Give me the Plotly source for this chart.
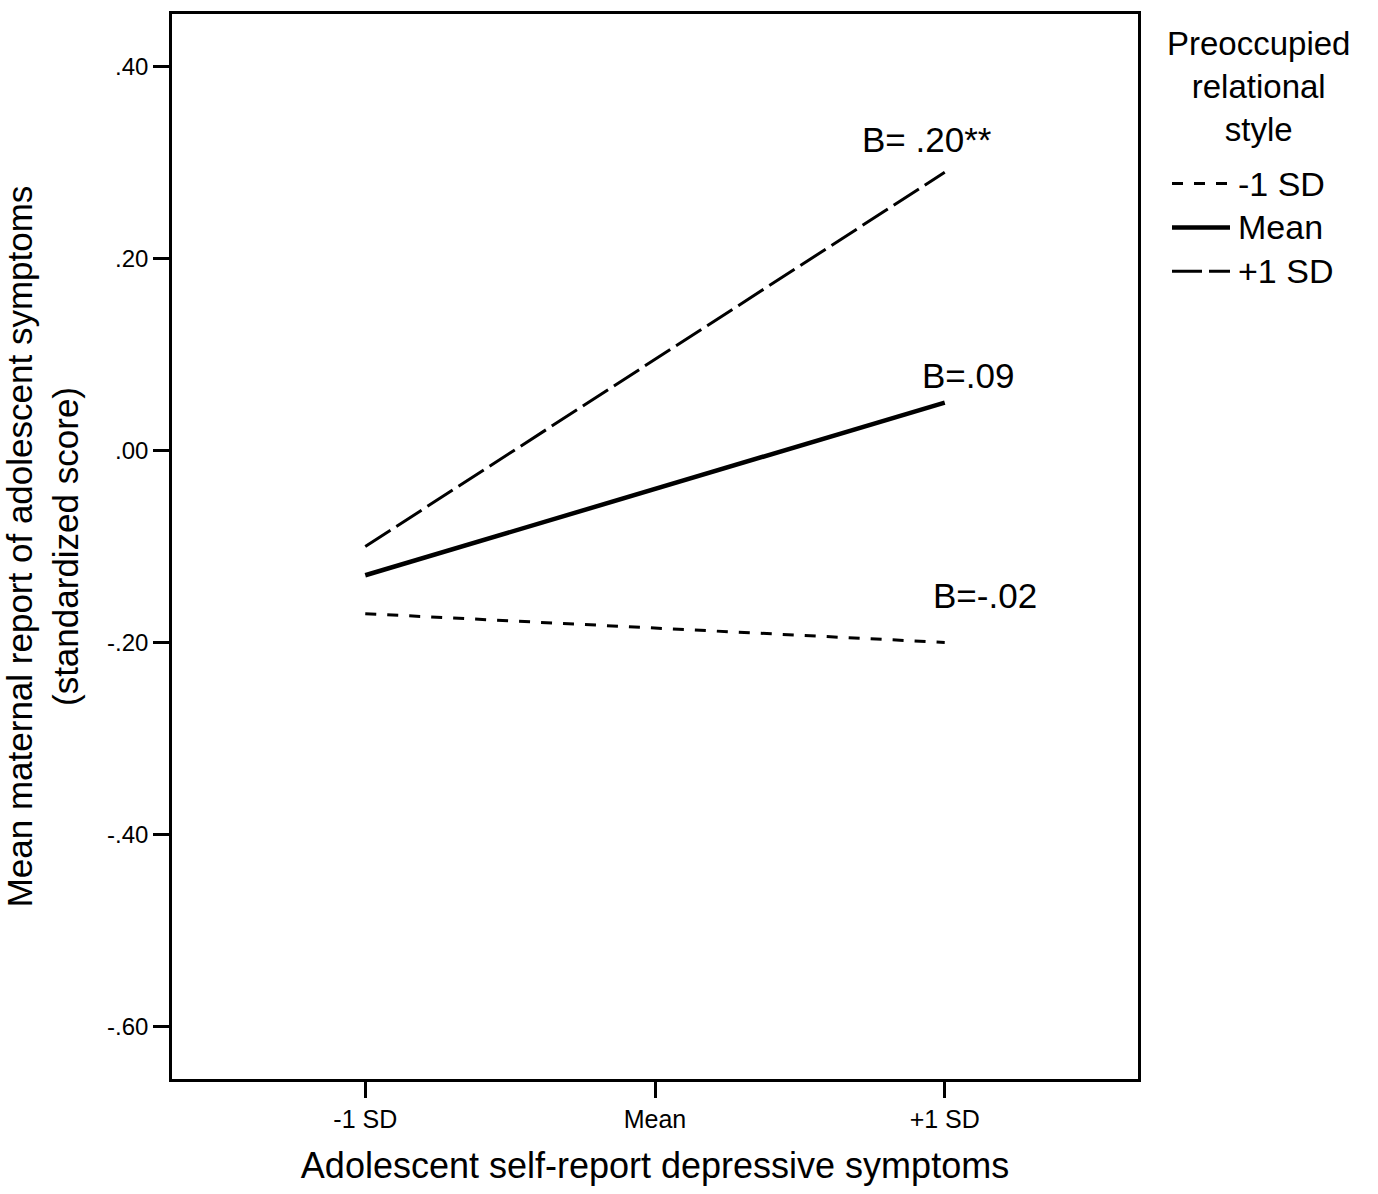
import plotly.graph_objects as go

x_labels = ["-1 SD", "Mean", "+1 SD"]
series_names = ["-1 SD", "Mean", "+1 SD"]
low_sd = [-0.17, -0.185, -0.20]
mean_vals = [-0.13, -0.04, 0.05]
high_sd = [-0.10, 0.095, 0.29]
b_labels = ["B=-.02", "B=.09", "B= .20**"]
y_ticks = [0.40, 0.20, 0.00, -0.20, -0.40, -0.60]
y_tick_text = [".40", ".20", ".00", "-.20", "-.40", "-.60"]
legend_title = "Preoccupied<br>relational<br>style"

FONT = "Liberation Sans, Arial, sans-serif"
xpos = [0, 1, 2]

W, H = 1378, 1194
ML, MR, MT, MB = 172, 240, 11, 115
PW, PH = W - ML - MR, H - MT - MB


def px2paper_x(px):
    return (px - ML) / PW


def px2paper_y(py):
    return (H - MB - py) / PH


fig = go.Figure()
styles = [
    dict(width=3, dash="11px,11px"),
    dict(width=4.5, dash="solid"),
    dict(width=3, dash="30px,7px"),
]
all_vals = [low_sd, mean_vals, high_sd]
for name, vals, st in zip(series_names, all_vals, styles):
    fig.add_trace(go.Scatter(
        x=xpos, y=vals, mode="lines", name=name, showlegend=False,
        line=dict(color="black", width=st["width"], dash=st["dash"]),
    ))

# B annotations near line ends
label_offsets = [(40, 0.049), (23, 0.028), (-18, 0.034)]
for vals, txt, (dx, dy) in zip(all_vals, b_labels, label_offsets):
    fig.add_annotation(
        x=xpos[-1], y=vals[-1] + dy, text=txt, showarrow=False,
        xanchor="center", yanchor="middle", xshift=dx,
        font=dict(family=FONT, size=35, color="black"),
    )

# Manual legend (title + samples)
fig.add_annotation(
    xref="paper", yref="paper", x=px2paper_x(1258), y=px2paper_y(84),
    text=legend_title, showarrow=False, xanchor="center", yanchor="middle",
    align="center",
    font=dict(family=FONT, size=33, color="black"),
)
for name, st, py in zip(series_names, styles, [181, 225, 269]):
    fig.add_shape(
        type="line", xref="paper", yref="paper",
        x0=px2paper_x(1172), x1=px2paper_x(1230), y0=px2paper_y(py), y1=px2paper_y(py),
        line=dict(color="black", width=st["width"], dash=st["dash"]),
    )
    fig.add_annotation(
        xref="paper", yref="paper", x=px2paper_x(1236), y=px2paper_y(py),
        text=name, showarrow=False, xanchor="left", yanchor="middle",
        font=dict(family=FONT, size=34, color="black"),
    )

fig.update_layout(
    width=W, height=H,
    margin=dict(l=ML, r=MR, t=MT, b=MB),
    plot_bgcolor="white", paper_bgcolor="white",
    font=dict(family=FONT, color="black"),
    showlegend=False,
    xaxis=dict(
        range=[-0.667, 2.667], tickmode="array", tickvals=xpos, ticktext=x_labels,
        ticks="outside", ticklen=16, tickwidth=2.5, tickcolor="black",
        showline=True, linecolor="black", linewidth=2.5, mirror=True,
        showgrid=False, zeroline=False,
        tickfont=dict(family=FONT, size=25, color="black"),
        title=dict(text="Adolescent self-report depressive symptoms",
                   font=dict(family=FONT, size=36, color="black"), standoff=22),
    ),
    yaxis=dict(
        range=[-0.655, 0.455], tickmode="array", tickvals=y_ticks, ticktext=y_tick_text,
        ticks="outside", ticklen=16, tickwidth=2.5, tickcolor="black",
        showline=True, linecolor="black", linewidth=2.5, mirror=True,
        showgrid=False, zeroline=False,
        tickfont=dict(family=FONT, size=24, color="black"),
        title=dict(text="Mean maternal report of adolescent symptoms<br>(standardized score)",
                   font=dict(family=FONT, size=35, color="black"), standoff=22),
    ),
)

fig.write_html("out.html", config={"displayModeBar": False})
with open("out.html", "r", encoding="utf-8") as f:
    html = f.read()
html = html.replace("<body>", '<body style="margin:0;padding:0;">', 1)
with open("out.html", "w", encoding="utf-8") as f:
    f.write(html)
